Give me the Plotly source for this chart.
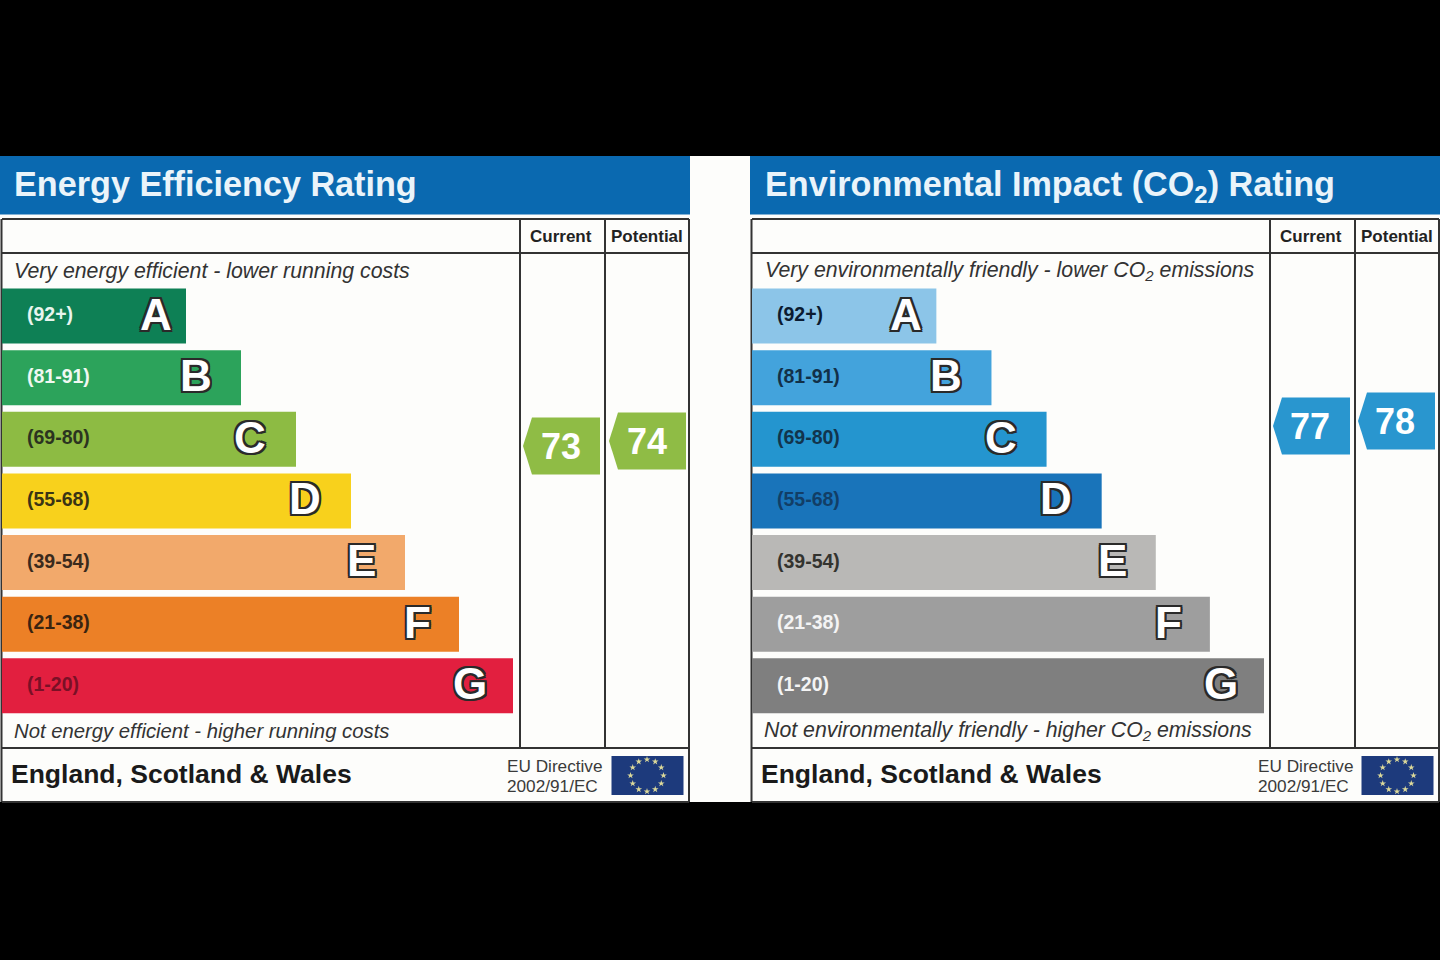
import math

import plotly.graph_objects as go

SANS = "Liberation Sans"

# Chart data
BANDS = ["A", "B", "C", "D", "E", "F", "G"]
RANGES = ["(92+)", "(81-91)", "(69-80)", "(55-68)", "(39-54)", "(21-38)", "(1-20)"]
BAR_LENGTHS = [184, 239, 294, 349, 403, 457, 511]

EFFICIENCY_COLORS = ["#0E8055", "#2CA35B", "#8DBB43", "#F8D11C", "#F2A96B", "#EC8026", "#E21F3F"]
EFFICIENCY_LABEL_COLORS = ["#E8F5EE", "#F0F8F2", "#2B3320", "#3A3415", "#3A2A1C", "#3A2410", "#7A1026"]
IMPACT_COLORS = ["#8CC5E8", "#43A3DC", "#2495CF", "#1974BA", "#B9B8B6", "#9E9E9E", "#7F7F7F"]
IMPACT_LABEL_COLORS = ["#0B1B30", "#123048", "#12344C", "#123E66", "#33332F", "#F4F4F4", "#F4F4F4"]

EFFICIENCY_CURRENT = 73
EFFICIENCY_POTENTIAL = 74
IMPACT_CURRENT = 77
IMPACT_POTENTIAL = 78

# Layout constants (pixels of the 1440x960 page)
W, H = 1440, 960
PANEL_OFFSET = 750
BLUE = "#0A69B0"
LINE = "#333333"
TAG_GREEN = "#8FBC45"
TAG_BLUE = "#2996CF"
ROW_TOP, ROW_BOTTOM = 285.2, 716.6
LETTER_SHIFT = [-12, -27, -28, -28, -27, -26, -24]
# rating axis: 73 sits at y=446, one point is 5 px
RATING_AT_TOP = 73 + 446 / 5
RATING_AT_BOTTOM = 73 - (H - 446) / 5

shapes = []
notes = []


def rect(x0, y0, x1, y1, fill):
    shapes.append(dict(type="rect", xref="x", yref="y", x0=x0, y0=y0, x1=x1, y1=y1,
                       fillcolor=fill, line=dict(width=0), layer="below"))


def line(x0, y0, x1, y1, width=2):
    shapes.append(dict(type="line", xref="x", yref="y", x0=x0, y0=y0, x1=x1, y1=y1,
                       line=dict(color=LINE, width=width), layer="below"))


def text(x, y, s, size, color="#222222", anchor="left", bold=False, italic=False,
         xref="x", yref="y", yshift=0):
    notes.append(dict(x=x, y=y, xref=xref, yref=yref, text=s, showarrow=False,
                      xanchor=anchor, yanchor="middle", yshift=yshift,
                      font=dict(family=SANS, size=size, color=color,
                                weight="bold" if bold else "normal",
                                style="italic" if italic else "normal")))


def tag(x_tip, rating, color, text_nudge, width=77, height=57, shoulder=9):
    half = height / 2
    path = (f"M 0 0 L {shoulder} {half} L {width} {half} "
            f"L {width} {-half} L {shoulder} {-half} Z")
    shapes.append(dict(type="path", xref="x", yref="y2", xsizemode="pixel", ysizemode="pixel",
                       xanchor=x_tip, yanchor=rating, path=path, fillcolor=color,
                       line=dict(width=0), layer="below"))
    text(x_tip + width / 2 + text_nudge, rating, str(rating), 36, "#FFFFFF", "center",
         bold=True, yref="y2")


def panel(dx, title, title_y, top_note, bottom_note, note_sizes, right_edge, label_colors,
          bar_axes, current, potential, tag_color, text_dx, eu_dx, nudge):
    rect(dx, 156, right_edge + 1, 214.5, BLUE)
    text(dx + text_dx, title_y, title, 34.2, "#EAF4FA", bold=True)
    # frame
    line(dx + 2, 219, right_edge, 219)
    line(dx + 2, 253, right_edge, 253)
    line(dx + 2, 748, right_edge, 748)
    line(dx + 2, 802, right_edge, 802)
    line(dx + 1.5, 219, dx + 1.5, 802)
    line(right_edge, 219, right_edge, 802)
    line(dx + 520, 219, dx + 520, 748)
    line(dx + 605, 219, dx + 605, 748)
    text(dx + 561, 236, "Current", 17, "#222222", "center", bold=True)
    text(dx + 647, 236, "Potential", 17, "#222222", "center", bold=True)
    text(dx + text_dx, 270.5, top_note, note_sizes[0], "#333333", italic=True)
    text(dx + text_dx - 1 if dx else dx + text_dx, 730.5, bottom_note, note_sizes[1],
         "#333333", italic=True)
    text(dx + 9, 774, "England, Scotland &amp; Wales", 26.5, "#1A1A1A", bold=True)
    text(dx + eu_dx, 766, "EU Directive", 17.2, "#3A3A3A")
    text(dx + eu_dx, 786, "2002/91/EC", 17.2, "#3A3A3A")
    rect(dx + 611.5, 756, dx + 683.5, 795, "#1D3A7C")
    # band labels and letters sit on the bar axes
    outline = ", ".join(f"{a}px {b}px 0 #2A2A2A" for a in (-2, 0, 2) for b in (-2, 0, 2))
    for i, band in enumerate(BANDS):
        text(23, band, RANGES[i], 19.5, label_colors[i], bold=True,
             xref=bar_axes[0], yref=bar_axes[1], yshift=2)
        notes.append(dict(x=BAR_LENGTHS[i], y=band, xref=bar_axes[0], yref=bar_axes[1],
                          text=band, showarrow=False, xanchor="right", yanchor="middle",
                          xshift=LETTER_SHIFT[i], yshift=2,
                          font=dict(family=SANS, size=44, color="#FFFFFF", weight="bold",
                                    shadow=outline)))
    tag(dx + 523, current, tag_color, nudge)
    tag(dx + 609 - (0 if dx == 0 else 1), potential, tag_color, nudge)


fig = go.Figure()

# page: white card on black
rect(0, 156, W, 802, "#FDFDFB")
panel(0, "Energy Efficiency Rating", 184, "Very energy efficient - lower running costs",
      "Not energy efficient - higher running costs", (21.3, 20.3), 689,
      EFFICIENCY_LABEL_COLORS, ("x3", "y3"), EFFICIENCY_CURRENT, EFFICIENCY_POTENTIAL,
      TAG_GREEN, 12, 505, -0.5)
panel(PANEL_OFFSET, "Environmental Impact (CO<sub>2</sub>) Rating", 186,
      "Very environmentally friendly - lower CO<sub>2</sub> emissions",
      "Not environmentally friendly - higher CO<sub>2</sub> emissions", (21.3, 21.3), 1439,
      IMPACT_LABEL_COLORS, ("x4", "y4"), IMPACT_CURRENT, IMPACT_POTENTIAL, TAG_BLUE, 13, 506,
      -1.5)

# EU flag stars
star_x, star_y = [], []
for dx in (0, PANEL_OFFSET):
    for hour in range(12):
        angle = math.radians(hour * 30)
        star_x.append(dx + 647 + 16.5 * math.sin(angle))
        star_y.append(775.5 - 16 * math.cos(angle))
fig.add_trace(go.Scatter(x=star_x, y=star_y, mode="markers", xaxis="x", yaxis="y",
                         marker=dict(symbol="star", size=5, color="#DCD99A"),
                         hoverinfo="skip", showlegend=False))

# keeps the rating axis alive for the tags
fig.add_trace(go.Scatter(x=[0], y=[EFFICIENCY_CURRENT], mode="markers", xaxis="x", yaxis="y2",
                         marker=dict(opacity=0), hoverinfo="skip", showlegend=False))

fig.add_trace(go.Bar(y=BANDS, x=BAR_LENGTHS, orientation="h", xaxis="x3", yaxis="y3",
                     marker=dict(color=EFFICIENCY_COLORS, line=dict(width=0)),
                     hoverinfo="skip", showlegend=False))
fig.add_trace(go.Bar(y=BANDS, x=BAR_LENGTHS, orientation="h", xaxis="x4", yaxis="y4",
                     marker=dict(color=IMPACT_COLORS, line=dict(width=0)),
                     hoverinfo="skip", showlegend=False))

hidden = dict(visible=False, showgrid=False, zeroline=False, fixedrange=True)
row_domain = [(H - ROW_BOTTOM) / H, (H - ROW_TOP) / H]
fig.update_layout(
    width=W, height=H,
    paper_bgcolor="#000000",
    plot_bgcolor="rgba(0,0,0,0)",
    margin=dict(l=0, r=0, t=0, b=0),
    bargap=0.107,
    showlegend=False,
    shapes=shapes,
    annotations=notes,
    xaxis=dict(range=[0, W], domain=[0, 1], **hidden),
    yaxis=dict(range=[H, 0], domain=[0, 1], **hidden),
    yaxis2=dict(range=[RATING_AT_BOTTOM, RATING_AT_TOP], overlaying="y", **hidden),
    xaxis3=dict(range=[0, 512], domain=[2 / W, 514 / W], anchor="y3", **hidden),
    yaxis3=dict(categoryorder="array", categoryarray=BANDS[::-1], domain=row_domain,
                anchor="x3", **hidden),
    xaxis4=dict(range=[0, 512], domain=[752 / W, 1265 / W], anchor="y4", **hidden),
    yaxis4=dict(categoryorder="array", categoryarray=BANDS[::-1], domain=row_domain,
                anchor="x4", **hidden),
)

fig.write_html("out.html", config={"displayModeBar": False},
               post_script="document.body.style.margin='0';document.body.style.overflow='hidden';")
